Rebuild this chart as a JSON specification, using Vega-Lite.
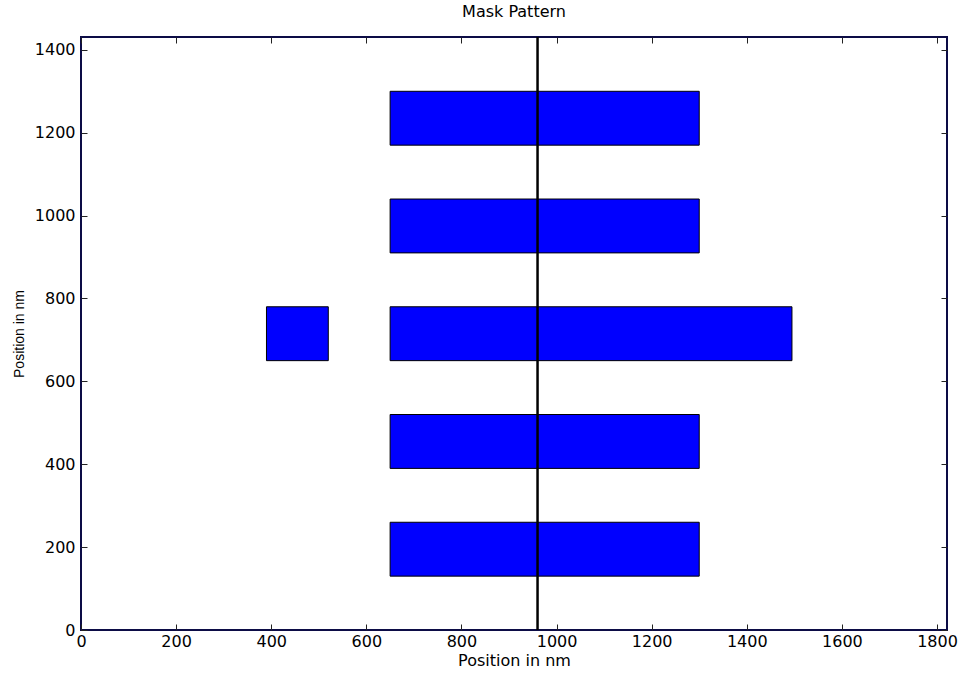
{
  "$schema": "https://vega.github.io/schema/vega-lite/v6.json",
  "width": 866,
  "height": 593,
  "autosize": "none",
  "padding": {"left": 81, "top": 37, "right": 14, "bottom": 47},
  "background": "white",
  "title": {"text": "Mask Pattern", "font": "DejaVu Sans", "fontSize": 16, "fontWeight": "normal", "color": "black", "offset": 16, "anchor": "middle"},
  "config": {
    "view": {"stroke": "#0c0c46", "strokeWidth": 2},
    "axis": {"grid": false, "domain": false, "format": "d", "labelFont": "DejaVu Sans", "labelFontSize": 16, "labelColor": "black", "tickColor": "#222222", "tickSize": -6, "tickWidth": 1, "titleFont": "DejaVu Sans", "titleFontSize": 16, "titleFontWeight": "normal", "titleColor": "black"}
  },
  "layer": [
    {
      "data": {"values": [
        {"x": 650, "x2": 1300, "y": 130, "y2": 260},
        {"x": 650, "x2": 1300, "y": 390, "y2": 520},
        {"x": 650, "x2": 1495, "y": 650, "y2": 780},
        {"x": 390, "x2": 520, "y": 650, "y2": 780},
        {"x": 650, "x2": 1300, "y": 910, "y2": 1040},
        {"x": 650, "x2": 1300, "y": 1170, "y2": 1300}
      ]},
      "mark": {"type": "rect", "fill": "#0000ff", "stroke": "black", "strokeWidth": 1},
      "encoding": {
        "x": {"field": "x", "type": "quantitative", "scale": {"domain": [0, 1821], "nice": false, "zero": false},
              "axis": {"orient": "bottom", "title": "Position in nm", "values": [0,200,400,600,800,1000,1200,1400,1600,1800], "labelPadding": 9, "titlePadding": 3, "labelFlush": false}},
        "x2": {"field": "x2"},
        "y": {"field": "y", "type": "quantitative", "scale": {"domain": [0, 1431], "nice": false, "zero": false},
              "axis": {"orient": "left", "title": "Position in nm", "titleFont": "Liberation Sans", "titleFontSize": 14, "values": [0,200,400,600,800,1000,1200,1400], "labelPadding": 12, "titlePadding": 8, "labelFlush": false}},
        "y2": {"field": "y2"}
      }
    },
    {
      "data": {"values": [{"pos": 960}]},
      "mark": {"type": "rule", "color": "black", "strokeWidth": 2.5},
      "encoding": {
        "x": {"field": "pos", "type": "quantitative",
              "axis": {"orient": "top", "title": null, "labels": false, "values": [0,200,400,600,800,1000,1200,1400,1600,1800]}}
      }
    },
    {
      "data": {"values": [{"v": 0}]},
      "mark": {"type": "point", "opacity": 0},
      "encoding": {
        "y": {"field": "v", "type": "quantitative",
              "axis": {"orient": "right", "title": null, "labels": false, "values": [0,200,400,600,800,1000,1200,1400]}}
      }
    }
  ]
}
